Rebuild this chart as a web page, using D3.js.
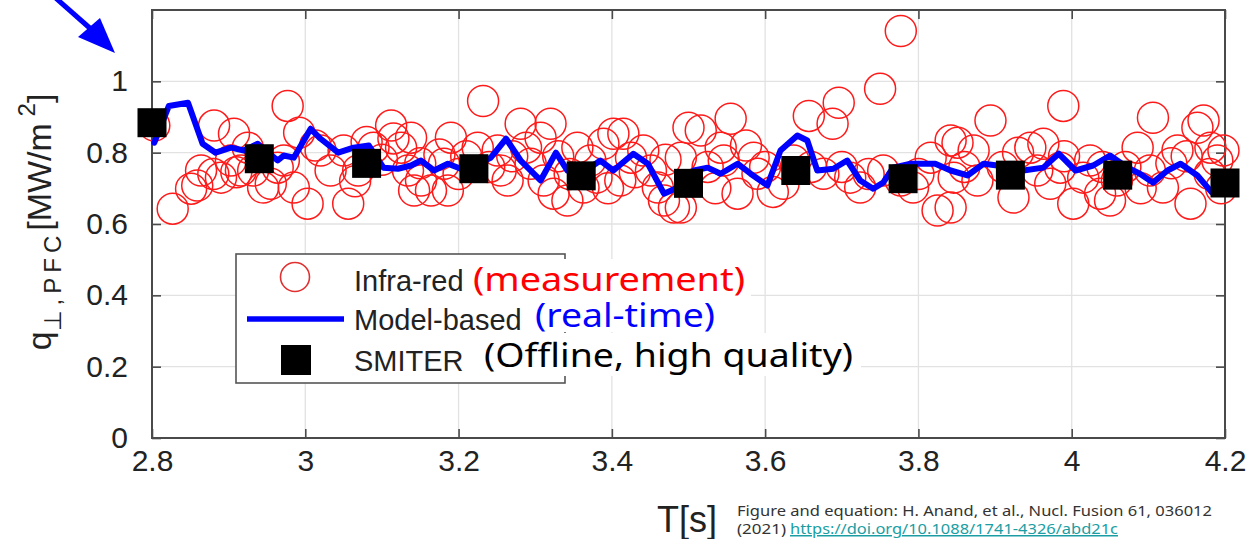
<!DOCTYPE html>
<html>
<head>
<meta charset="utf-8">
<script src="https://cdn.jsdelivr.net/npm/d3@7"></script>
<style>
  body { margin: 0; background: #fff; }
  svg { display: block; }
</style>
</head>
<body>
<svg id="chart" width="1248" height="539"></svg>
<script>
// SMITER (offline) points
const smiterTime = [2.80, 2.94, 3.08, 3.22, 3.36, 3.50, 3.64, 3.78, 3.92, 4.06, 4.20];
const smiterValue = [0.884, 0.783, 0.770, 0.755, 0.735, 0.714, 0.750, 0.727, 0.737, 0.737, 0.715];

// Model-based (real-time) trace
const modelTime = [2.803, 2.822, 2.847, 2.866, 2.883, 2.903, 2.920, 2.938, 2.964, 2.972, 2.985,
  3.007, 3.020, 3.043, 3.063, 3.083, 3.102, 3.121, 3.138, 3.151, 3.168, 3.186, 3.203, 3.220,
  3.242, 3.262, 3.281, 3.307, 3.327, 3.342, 3.362, 3.385, 3.402, 3.428, 3.447, 3.468, 3.486,
  3.507, 3.525, 3.542, 3.564, 3.581, 3.603, 3.620, 3.642, 3.655, 3.668, 3.689, 3.707, 3.724,
  3.741, 3.754, 3.767, 3.790, 3.822, 3.842, 3.864, 3.885, 3.903, 3.937, 3.963, 3.983, 4.005,
  4.028, 4.050, 4.073, 4.089, 4.106, 4.125, 4.142, 4.164, 4.183, 4.200];
const modelValue = [0.828, 0.931, 0.940, 0.825, 0.800, 0.814, 0.806, 0.825, 0.778, 0.792, 0.786,
  0.867, 0.839, 0.800, 0.814, 0.820, 0.758, 0.755, 0.764, 0.778, 0.750, 0.769, 0.755, 0.764,
  0.786, 0.839, 0.778, 0.722, 0.800, 0.750, 0.744, 0.778, 0.750, 0.797, 0.769, 0.685, 0.702,
  0.750, 0.758, 0.741, 0.769, 0.741, 0.708, 0.806, 0.848, 0.834, 0.750, 0.755, 0.778, 0.722,
  0.699, 0.716, 0.758, 0.769, 0.769, 0.750, 0.736, 0.769, 0.764, 0.750, 0.758, 0.797, 0.750,
  0.764, 0.792, 0.758, 0.741, 0.716, 0.750, 0.769, 0.736, 0.688, 0.702];

// Infra-red measurement
const irTime = [2.803, 2.827, 2.851, 2.859, 2.864, 2.880, 2.881, 2.890, 2.903, 2.907, 2.910, 2.916,
  2.925, 2.932, 2.945, 2.955, 2.964, 2.972, 2.977, 2.985, 2.992, 3.003, 3.013, 3.020, 3.033,
  3.050, 3.056, 3.065, 3.069, 3.080, 3.089, 3.100, 3.112, 3.115, 3.125, 3.134, 3.138, 3.142,
  3.150, 3.151,
  3.164, 3.175, 3.181, 3.186, 3.190, 3.200, 3.210, 3.225, 3.232, 3.240, 3.251, 3.255, 3.264,
  3.270, 3.281, 3.288, 3.294, 3.307, 3.311, 3.320, 3.324, 3.330, 3.342, 3.345, 3.355, 3.363,
  3.372, 3.380, 3.389, 3.395, 3.402, 3.411, 3.415, 3.425, 3.430, 3.441, 3.451, 3.460, 3.468,
  3.470, 3.481, 3.490, 3.490, 3.500,
  3.516, 3.525, 3.535, 3.542, 3.546, 3.555, 3.564, 3.575, 3.585, 3.590, 3.600, 3.610, 3.624,
  3.637, 3.657, 3.660, 3.676, 3.688, 3.696, 3.700, 3.711, 3.724, 3.735, 3.750, 3.754, 3.777,
  3.777, 3.793, 3.800, 3.816, 3.825, 3.842, 3.846,
  3.842, 3.851, 3.860, 3.872, 3.877, 3.894, 3.910, 3.924, 3.930, 3.946, 3.955, 3.963, 3.972,
  3.985, 3.989, 3.990, 4.002, 4.015, 4.024, 4.037, 4.040, 4.050, 4.059, 4.070, 4.086, 4.090,
  4.102, 4.106, 4.119, 4.130, 4.138, 4.150, 4.155, 4.164, 4.172, 4.180, 4.181, 4.190, 4.195, 4.198];
const irValue = [0.876, 0.643, 0.699, 0.708, 0.750, 0.740, 0.876, 0.730, 0.778, 0.853, 0.745, 0.750,
  0.814, 0.750, 0.702, 0.713, 0.758, 0.778, 0.931, 0.702, 0.856, 0.657, 0.820, 0.806, 0.750,
  0.806, 0.657, 0.720, 0.750, 0.830, 0.814, 0.780, 0.876, 0.840, 0.814, 0.750, 0.842, 0.694,
  0.770, 0.722,
  0.694, 0.795, 0.769, 0.694, 0.842, 0.740, 0.790, 0.814, 0.945, 0.760, 0.806, 0.750, 0.722,
  0.790, 0.881, 0.814, 0.769, 0.842, 0.722, 0.881, 0.685, 0.790, 0.666, 0.740, 0.814, 0.702,
  0.778, 0.730, 0.825, 0.700, 0.853, 0.722, 0.853, 0.786, 0.745, 0.806, 0.750, 0.702, 0.666,
  0.780, 0.646, 0.786, 0.646, 0.870,
  0.862, 0.760, 0.700, 0.814, 0.778, 0.895, 0.685, 0.820, 0.786, 0.741, 0.760, 0.690, 0.713,
  0.778, 0.903, 0.760, 0.741, 0.881, 0.940, 0.760, 0.730, 0.702, 0.740, 0.979, 0.750, 1.141,
  0.722, 0.702, 0.740, 0.786, 0.638, 0.834, 0.730,
  0.646, 0.828, 0.760, 0.806, 0.722, 0.890, 0.760, 0.674, 0.800, 0.814, 0.750, 0.825, 0.713,
  0.758, 0.931, 0.790, 0.657, 0.730, 0.778, 0.685, 0.760, 0.666, 0.722, 0.760, 0.814, 0.700,
  0.750, 0.898, 0.702, 0.770, 0.806, 0.790, 0.657, 0.870, 0.890, 0.740, 0.814, 0.778, 0.700, 0.806];

const xTicks = [2.8, 3, 3.2, 3.4, 3.6, 3.8, 4, 4.2];
const yTicks = [0, 0.2, 0.4, 0.6, 0.8, 1];

const svg = d3.select('#chart');
const axisFont = 'Liberation Sans, Arial, Helvetica, sans-serif';
const annoFont = 'Noto Sans, DejaVu Sans, sans-serif';

const x = d3.scaleLinear().domain([2.8, 4.2]).range([152, 1225]);
const y = d3.scaleLinear().domain([0, 1.2]).range([438, 10]);
const fmt = d => String(+d.toFixed(1));

// grid lines
svg.append('g').selectAll('line').data(xTicks.slice(1, -1)).join('line')
    .attr('x1', d => x(d)).attr('x2', d => x(d))
    .attr('y1', y(1.2)).attr('y2', y(0))
    .attr('stroke', '#e2e2e2').attr('stroke-width', 1.3);
svg.append('g').selectAll('line').data(yTicks.slice(1)).join('line')
    .attr('x1', x(2.8)).attr('x2', x(4.2))
    .attr('y1', d => y(d)).attr('y2', d => y(d))
    .attr('stroke', '#e2e2e2').attr('stroke-width', 1.3);

// axes (ticks point inwards)
function styleAxis(g) {
    g.attr('font-size', 30).attr('font-family', axisFont).attr('color', '#4a4a4a');
    g.selectAll('.domain').remove();
    g.selectAll('text').attr('fill', '#222');
    g.selectAll('.tick line').attr('stroke-width', 1.6);
}
svg.append('g').attr('transform', `translate(0,${y(0)})`)
    .call(d3.axisBottom(x).tickValues(xTicks).tickFormat(fmt).tickSize(-9).tickPadding(12))
    .call(styleAxis);
svg.append('g').attr('transform', `translate(${x(2.8)},0)`)
    .call(d3.axisLeft(y).tickValues(yTicks).tickFormat(fmt).tickSize(-9).tickPadding(24))
    .call(styleAxis);
svg.append('g').attr('transform', `translate(0,${y(1.2)})`)
    .call(d3.axisTop(x).tickValues(xTicks).tickFormat('').tickSize(-9))
    .call(styleAxis);
svg.append('g').attr('transform', `translate(${x(4.2)},0)`)
    .call(d3.axisRight(y).tickValues(yTicks).tickFormat('').tickSize(-9))
    .call(styleAxis);

svg.append('rect')
    .attr('x', x(2.8)).attr('y', y(1.2))
    .attr('width', x(4.2) - x(2.8)).attr('height', y(0) - y(1.2))
    .attr('fill', 'none').attr('stroke', '#4a4a4a').attr('stroke-width', 2);

// infra-red circles
svg.append('g').selectAll('circle').data(irTime).join('circle')
    .attr('cx', d => x(d))
    .attr('cy', (d, i) => y(irValue[i]))
    .attr('r', 15.5)
    .attr('fill', 'none').attr('stroke', '#ff1a1a').attr('stroke-width', 1.5);

// model-based line
const modelData = modelTime.map((t, i) => [t, modelValue[i]]);
svg.append('path')
    .datum(modelData)
    .attr('d', d3.line().x(d => x(d[0])).y(d => y(d[1])))
    .attr('fill', 'none').attr('stroke', '#0000ff').attr('stroke-width', 6)
    .attr('stroke-linejoin', 'round').attr('stroke-linecap', 'round');

// SMITER squares
const sq = 29;
svg.append('g').selectAll('rect').data(smiterTime).join('rect')
    .attr('x', d => x(d) - sq / 2)
    .attr('y', (d, i) => y(smiterValue[i]) - sq / 2)
    .attr('width', sq).attr('height', sq)
    .attr('fill', '#000');

// legend
const leg = svg.append('g');
leg.append('rect').attr('x', 236).attr('y', 254).attr('width', 329).attr('height', 129)
    .attr('fill', '#fff').attr('stroke', '#555').attr('stroke-width', 1.6);
leg.append('circle').attr('cx', 295).attr('cy', 277).attr('r', 14.5)
    .attr('fill', 'none').attr('stroke', '#e03030').attr('stroke-width', 1.6);
leg.append('line').attr('x1', 247).attr('x2', 344).attr('y1', 319).attr('y2', 319)
    .attr('stroke', '#0000ff').attr('stroke-width', 5.5);
leg.append('rect').attr('x', 281).attr('y', 345).attr('width', 30).attr('height', 30).attr('fill', '#000');
const legLabels = ['Infra-red', 'Model-based', 'SMITER'];
const legBase = [291, 330, 371];
leg.selectAll('text').data(legLabels).join('text')
    .attr('x', 354).attr('y', (d, i) => legBase[i])
    .attr('font-family', axisFont).attr('font-size', 29).attr('fill', '#222')
    .text(d => d);

// annotation texts on white boxes
const notes = [
    { text: '(measurement)', color: '#ff0000', bx: 465, by: 259, bw: 286, bh: 44, tx: 473, ty: 291, tw: 272 },
    { text: '(real-time)', color: '#0000ff', bx: 532, by: 303, bw: 185, bh: 29, tx: 535, ty: 327, tw: 180 },
    { text: '(Offline, high quality)', color: '#000', bx: 481, by: 333, bw: 380, bh: 43, tx: 484, ty: 367, tw: 369 }
];
notes.forEach(n => {
    svg.append('rect').attr('x', n.bx).attr('y', n.by).attr('width', n.bw).attr('height', n.bh).attr('fill', '#fff');
    svg.append('text').attr('x', n.tx).attr('y', n.ty)
        .attr('font-family', annoFont).attr('font-size', 33).attr('fill', n.color)
        .attr('textLength', n.tw).attr('lengthAdjust', 'spacingAndGlyphs')
        .text(n.text);
});

// y axis label
const yl = svg.append('text')
    .attr('transform', 'translate(51,222) rotate(-90)')
    .attr('text-anchor', 'middle')
    .attr('font-family', axisFont).attr('font-size', 34).attr('fill', '#222');
yl.append('tspan').text('q');
yl.append('tspan').attr('font-size', 24).attr('dy', 10).attr('letter-spacing', 5).text('\u22A5,PFC');
yl.append('tspan').attr('dy', -10).text('[MW/m');
yl.append('tspan').attr('font-size', 24).attr('dy', -16).text(' 2');
yl.append('tspan').attr('dy', 16).text(']');

// x axis label
svg.append('text').attr('x', 657).attr('y', 532)
    .attr('font-family', axisFont).attr('font-size', 36).attr('fill', '#222')
    .text('T[s]');

// citation
svg.append('text').attr('x', 737).attr('y', 516)
    .attr('font-family', annoFont).attr('font-size', 15).attr('fill', '#333')
    .attr('textLength', 475).attr('lengthAdjust', 'spacingAndGlyphs')
    .text('Figure and equation: H. Anand, et al., Nucl. Fusion 61, 036012');
svg.append('text').attr('x', 737).attr('y', 534)
    .attr('font-family', annoFont).attr('font-size', 15).attr('fill', '#333')
    .attr('textLength', 49).attr('lengthAdjust', 'spacingAndGlyphs')
    .text('(2021)');
svg.append('text').attr('x', 790).attr('y', 534)
    .attr('font-family', annoFont).attr('font-size', 15).attr('fill', '#1a9ea3')
    .attr('text-decoration', 'underline')
    .attr('textLength', 328).attr('lengthAdjust', 'spacingAndGlyphs')
    .text('https://doi.org/10.1088/1741-4326/abd21c');

// blue arrow pointing at the axes corner
svg.append('line').attr('x1', 50).attr('y1', -7).attr('x2', 92).attr('y2', 30)
    .attr('stroke', '#0000ff').attr('stroke-width', 5);
svg.append('polygon')
    .attr('points', [[115, 53], [78, 37], [100, 18]].map(p => p.join(',')).join(' '))
    .attr('fill', '#0000ff');
</script>
</body>
</html>
